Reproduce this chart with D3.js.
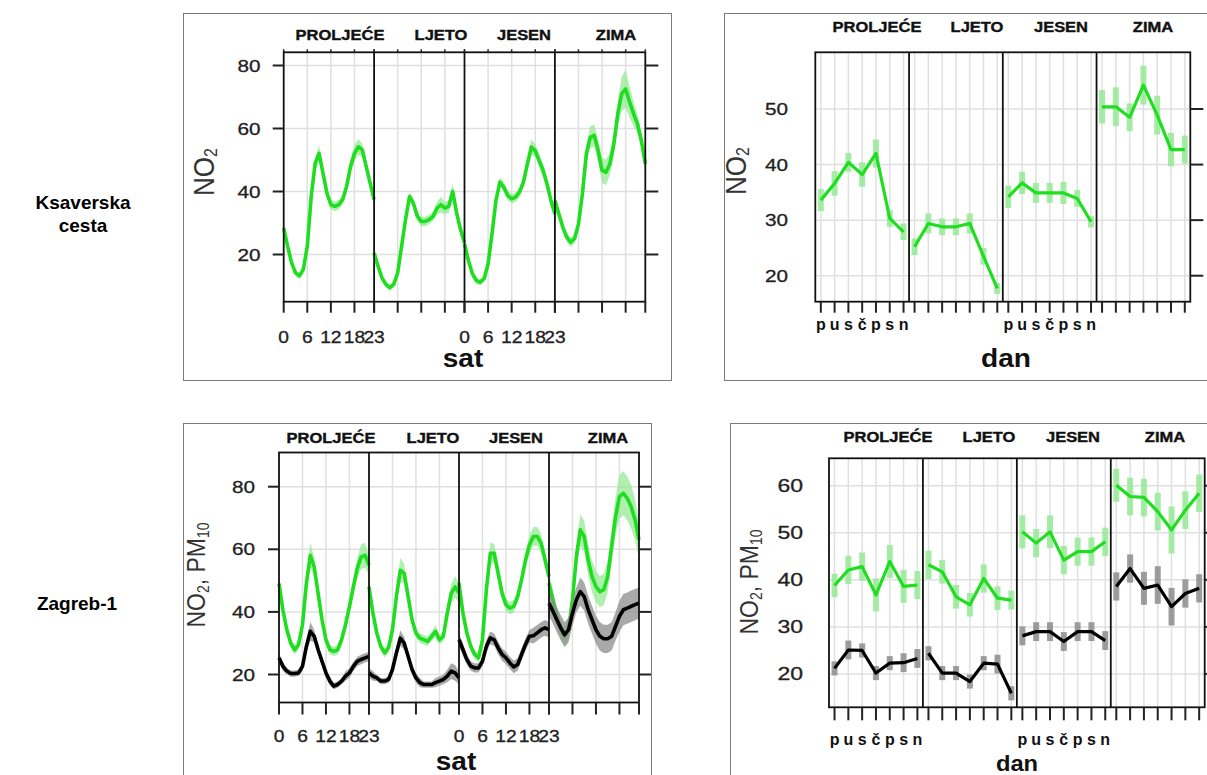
<!DOCTYPE html>
<html><head><meta charset="utf-8">
<script src="https://cdn.jsdelivr.net/npm/d3@7"></script>
<style>body{margin:0;background:#fff} svg{display:block} text{font-family:"Liberation Sans",Arial,Helvetica,sans-serif}</style>
</head><body><svg id="c" width="1207" height="775"></svg>
<script>
// ---------------- DATA ----------------
const seasons = ["PROLJEĆE", "LJETO", "JESEN", "ZIMA"];
const hours = [0,1,2,3,4,5,6,7,8,9,10,11,12,13,14,15,16,17,18,19,20,21,22,23];
const hourTickValues = [0, 6, 12, 18, 23];
const hourTickLabels = ["0", "6", "12", "18", "23"];
const hourGrid = [6, 12, 18];
const days = [1, 2, 3, 4, 5, 6, 7];
const dayLabels = ["p", "u", "s", "č", "p", "s", "n"];
const stations = ["Ksaverska", "cesta", "Zagreb-1"];

// Ksaverska cesta – NO2 by hour (one row per season)
const ksavHourNO2 = [
  [28.4,22.6,17.4,14.2,13.2,15.3,22.6,38.4,48.9,52.1,45.8,39.5,35.8,35.3,35.8,37.4,41.6,47.9,52.1,54.2,53.2,47.9,42.6,37.4],
  [20.5,16.3,12.6,10.5,9.5,10.5,14.2,22.6,31.1,38.4,36.3,32.1,30.5,30.5,31.1,32.1,34.7,35.8,34.7,35.3,40.0,33.2,27.9,23.7],
  [23.4,18.1,13.9,11.7,11.2,12.3,17.0,26.6,37.1,43.0,41.4,38.7,37.7,38.2,39.8,43.0,48.8,54.1,53.0,49.8,46.7,42.4,37.1,32.9],
  [37.1,32.9,28.7,25.5,23.9,25.0,29.7,39.3,52.0,57.2,57.8,53.0,46.7,46.1,48.8,55.1,64.7,71.0,72.6,68.4,64.7,61.5,56.2,48.8]
];
const ksavHourNO2ci = [
  [1,1,1,1,1,1,1,1.5,2,2.5,1.5,1.5,1.5,1.5,1.5,1.5,1.5,2,2.5,2.5,2,1.5,1.5,1.5],
  [1,1,1,1,1,1,1,1.5,1.5,1.5,1.5,1.5,1.5,1.5,1.5,1.5,2,2.5,2,2,2.5,1.5,1.5,1.5],
  [1,1,1,1,1,1,1,1.5,1.5,1.5,1.5,1.5,1.5,1.5,1.5,1.5,2,2.5,2,2,2,2,1.5,1.5],
  [1.5,1.5,1.5,1.5,1.5,1.5,1.5,2,3,3.5,3.5,3.5,4,4,3.5,3.5,4,5.5,6,5,4,3,2.5,2]
];
// Ksaverska cesta – NO2 by weekday
const ksavDayNO2 = [
  [33.6,36.6,40.4,38.2,42.0,30.3,27.9],
  [25.2,29.4,28.8,28.8,29.4,23.5,17.7],
  [34.2,36.7,34.9,34.9,34.9,33.9,29.7],
  [50.4,50.4,48.5,54.3,48.9,42.7,42.7]
];
const ksavDayNO2ci = [
  [2,2.2,1.7,2.2,2.5,1.5,1.5],
  [1.5,1.8,1.5,1.5,1.8,1.5,1],
  [2,2,1.8,1.8,2,1.5,1],
  [3,3.5,2.5,3.5,3.5,3,2.5]
];
// Zagreb-1 – NO2 (green) and PM10 (black) by hour
const zgHourNO2 = [
  [49.1,40.6,34.3,30.0,27.9,29.5,35.9,49.1,58.1,54.4,45.9,37.5,31.1,27.9,27.4,27.9,31.1,35.9,41.7,48.0,53.9,57.6,58.1,54.9],
  [48.0,39.6,33.2,29.0,26.9,28.5,34.3,44.9,53.3,52.3,44.9,37.5,33.2,31.6,31.1,30.6,32.2,33.8,31.1,32.2,39.6,45.9,48.0,46.0],
  [49.2,39.6,33.3,29.0,26.4,25.3,31.1,47.1,58.7,58.7,52.4,46.0,42.3,41.2,41.8,44.9,50.3,56.6,61.4,64.1,64.1,61.9,56.6,51.3],
  [49.2,43.9,38.6,34.3,32.2,34.3,43.9,57.7,66.2,64.1,56.6,51.3,48.1,46.5,47.1,51.3,60.9,70.4,76.8,77.9,76.3,73.6,69.4,63.0]
];
const zgHourNO2ci = [
  [2,1.5,1.5,1.5,1.5,1.5,2,2.5,4,3,2,1.5,1.5,1.5,1.5,1.5,1.5,2,2,2.5,3,4,4,3],
  [2,1.5,1.5,1.5,1.5,1.5,2,2.5,4,3,2,1.5,1.5,1.5,1.5,1.5,1.5,2,1.5,1.5,2,3,3.5,3],
  [2,1.5,1.5,1.5,1.5,1.5,2,3,3.5,3,2.5,2,2,2,2,2,2,2.5,3,3,3,3,2.5,2.5],
  [3,3,3,3,3,3,3,4,5,5,5,5,5,5,5,5,5,6,7,7,7,7,6.5,6]
];
const zgHourPM10 = [
  [25.3,22.6,21.1,20.3,20.3,20.5,22.6,29.0,33.8,32.2,27.9,24.2,20.5,17.9,16.3,16.8,17.9,19.5,20.5,22.6,24.2,24.8,25.3,25.8],
  [20.5,19.5,18.9,17.9,17.9,18.4,21.6,26.9,31.6,30.0,25.8,21.6,18.9,17.4,16.8,16.8,16.8,17.4,17.9,18.4,19.5,21.1,20.5,18.9],
  [31.1,28.0,24.8,22.7,22.1,22.1,24.2,29.0,31.7,31.1,28.5,26.4,25.3,23.7,22.4,23.2,26.4,29.6,32.2,32.4,33.3,34.3,34.9,34.3],
  [42.8,40.2,37.5,34.9,32.7,34.3,39.6,43.9,46.5,44.9,40.7,37.5,34.3,32.2,31.4,31.4,32.2,35.4,38.6,40.7,41.2,41.8,42.3,42.8]
];
const zgHourPM10ci = [
  [1.5,1.5,1,1,1,1,1.5,2,3,2,1.5,1.5,1.5,1.5,1,1,1,1.5,1.5,1.5,1.5,1.5,1.5,1.5],
  [1.5,1.5,1,1,1,1,1.5,2,2.5,2,1.5,1.5,1.5,1.5,1,1,1,1.5,1.5,1.5,2,2.5,2.5,2],
  [2,2,1.5,1.5,1.5,1.5,1.5,2,2,2,2,2,2,2,2,2,2,2,2,2.5,2.5,2.5,2.5,2.5],
  [4,4,4,4,4,4,4,4,4.5,4.5,4.5,4.5,4.5,4.5,4.5,4.5,4.5,4.5,5,5,5,5,5,5]
];
// Zagreb-1 – by weekday
const zgDayNO2 = [
  [38.8,42.1,42.8,36.8,43.9,38.6,38.9],
  [43.2,41.7,36.4,34.7,40.3,36.1,35.7],
  [50.2,47.8,50.2,44.2,46.0,46.0,48.1],
  [60.1,57.7,57.5,54.5,50.6,54.8,58.4]
];
const zgDayNO2ci = [
  [2.5,3,3,3.5,3.5,3.5,3],
  [3,2.5,2.5,2.5,3,2.5,2],
  [3.5,3,3.5,3,3,3,3],
  [3.5,4,4,4,5,4,4]
];
const zgDayPM10 = [
  [21.2,25.1,25.0,20.2,22.3,22.4,23.3],
  [24.4,20.2,20.2,18.4,22.3,22.1,15.9],
  [28.1,29.0,29.0,26.9,29.0,29.0,27.1],
  [38.6,42.4,38.2,38.9,34.3,37.1,38.2]
];
const zgDayPM10ci = [
  [1.5,2,1.5,1.5,1.5,2,2],
  [1.5,1.5,1.5,1.5,1.5,2,1.5],
  [2,2,2,2,2,2,2],
  [3,3,3.5,4,4,3,3]
];

// ---------------- STYLE / LAYOUT ----------------
const GREEN = "#1fdd1f", GREEN_BAND = "#95e995";
const BLACK = "#000000", GREY_BAND = "#8c8c8c";
const svg = d3.select("#c");
svg.append("rect").attr("width",1207).attr("height",775).attr("fill","#fff");

function txt(g, x, y, s, o) {
  o = o || {};
  const t = g.append("text")
    .attr("transform", `translate(${x},${y}) rotate(${o.rot||0}) scale(${o.sx||1},${o.sy||1})`)
    .attr("font-size", o.size || 14)
    .attr("font-weight", o.weight || "normal")
    .attr("text-anchor", o.anchor || "middle")
    .attr("fill", o.fill || "#000");
  if (o.stroke) t.attr("stroke", o.fill || "#000").attr("stroke-width", o.stroke);
  if (Array.isArray(s)) {
    s.forEach(p => t.append("tspan").attr("font-size", p.size || null).attr("dy", p.dy || 0).text(p.t));
  } else t.text(s);
  return t;
}

// outer frames
const frames = [
  [183, 13, 488, 367], [724, 13, 490, 367],
  [183, 423, 468, 360], [730, 423, 490, 360]
];
frames.forEach(f => svg.append("rect").attr("x",f[0]+0.5).attr("y",f[1]+0.5).attr("width",f[2]).attr("height",f[3])
  .attr("fill","none").attr("stroke","#7a7a7a").attr("stroke-width",1));

// station labels
txt(svg, 83, 209, stations[0], {size:19, weight:"bold"});
txt(svg, 83, 232, stations[1], {size:19, weight:"bold"});
txt(svg, 77, 610, stations[2], {size:19, weight:"bold"});

const charts = [
  { kind:"hour", L:283.7, R:645.3, T:52.3, B:301.7, yA:[20,80], yP:[254.5,65.5], yTicks:[20,40,60,80],
    leftTick:11, rightTick:13, botTick:11, topTick:3, labRight:260.5, ySize:17, ysx:1.22,
    xLabY:343, stripX:[340,441,524,616], stripY:40,
    title:{x:463,y:367,t:"sat",size:26}, ylab:{x:214,y:172,parts:[{t:"NO"},{t:"2",size:16,dy:3}]},
    series:[{v:ksavHourNO2, ci:ksavHourNO2ci, c:GREEN, b:GREEN_BAND}] },
  { kind:"day", L:815.3, R:1190.3, T:52.3, B:301.7, yA:[20,50], yP:[275.7,109], yTicks:[20,30,40,50],
    leftTick:0, rightTick:13, botTick:11, topTick:0, labRight:788, ySize:17, ysx:1.22,
    xLabY:330, stripX:[877,977,1061,1153], stripY:32,
    title:{x:1006,y:367,t:"dan",size:26}, ylab:{x:745.5,y:171,parts:[{t:"NO"},{t:"2",size:16,dy:3}]},
    series:[{v:ksavDayNO2, ci:ksavDayNO2ci, c:GREEN, b:GREEN_BAND}] },
  { kind:"hour", L:279, R:639, T:452.5, B:702.5, yA:[20,80], yP:[674.5,486.7], yTicks:[20,40,60,80],
    leftTick:11, rightTick:12, botTick:12, topTick:0, labRight:255, ySize:17, ysx:1.22,
    xLabY:742, stripX:[331,433,516,608], stripY:443,
    title:{x:456,y:770,t:"sat",size:26}, ylab:{x:205,y:575,parts:[{t:"NO"},{t:"2",size:14,dy:4},{t:", PM",dy:-4},{t:"10",size:14,dy:4}]},
    series:[{v:zgHourNO2, ci:zgHourNO2ci, c:GREEN, b:GREEN_BAND},{v:zgHourPM10, ci:zgHourPM10ci, c:BLACK, b:GREY_BAND}] },
  { kind:"day", L:829, R:1204.7, T:458.3, B:707.3, yA:[20,60], yP:[674,485.7], yTicks:[20,30,40,50,60],
    leftTick:0, rightTick:13, botTick:13, topTick:0, labRight:803, ySize:18, ysx:1.28,
    xLabY:745, stripX:[888,989,1073,1165], stripY:442,
    title:{x:1017,y:771,t:"dan",size:22}, ylab:{x:758,y:582,parts:[{t:"NO"},{t:"2",size:14,dy:4},{t:", PM",dy:-4},{t:"10",size:14,dy:4}]},
    series:[{v:zgDayNO2, ci:zgDayNO2ci, c:GREEN, b:GREEN_BAND},{v:zgDayPM10, ci:zgDayPM10ci, c:BLACK, b:GREY_BAND}] }
];

function drawChart(cfg) {
  const g = svg.append("g");
  const y = d3.scaleLinear().domain(cfg.yA).range(cfg.yP);
  const w = (cfg.R - cfg.L) / 4;
  const isHour = cfg.kind === "hour";
  const cats = isHour ? hours : days;
  const xs = seasons.map((s, i) => d3.scaleLinear()
    .domain(isHour ? [0, 23] : [0.6, 7.4])
    .range([cfg.L + i * w, cfg.L + (i + 1) * w]));
  const vGrid = isHour ? hourGrid : days;
  const xTickVals = isHour ? hourTickValues : days;
  const xTickLabs = isHour ? hourTickLabels : dayLabels;

  // grid
  const grid = g.append("g").attr("stroke", "#e0e0e0").attr("stroke-width", 1.5);
  cfg.yTicks.forEach(t => grid.append("line").attr("x1", cfg.L).attr("x2", cfg.R).attr("y1", y(t)).attr("y2", y(t)));
  xs.forEach(x => vGrid.forEach(c => grid.append("line").attr("x1", x(c)).attr("x2", x(c)).attr("y1", cfg.T).attr("y2", cfg.B)));

  // series
  cfg.series.forEach(s => {
    xs.forEach((x, i) => {
      const pts = cats.map((c, j) => ({ x: x(c), m: s.v[i][j], e: s.ci[i][j] }));
      if (isHour) {
        g.append("path").datum(pts)
          .attr("d", d3.area().x(d => d.x).y0(d => y(d.m - d.e)).y1(d => y(d.m + d.e)))
          .attr("fill", s.b).attr("opacity", 0.75);
      } else {
        g.selectAll(null).data(pts).enter().append("rect")
          .attr("x", d => d.x - 3).attr("width", 6)
          .attr("y", d => y(d.m + d.e)).attr("height", d => y(d.m - d.e) - y(d.m + d.e))
          .attr("fill", s.b).attr("opacity", 0.85);
      }
      g.append("path").datum(pts)
        .attr("d", d3.line().x(d => d.x).y(d => y(d.m)))
        .attr("fill", "none").attr("stroke", s.c).attr("stroke-width", isHour ? 3.6 : 3.2).attr("stroke-linejoin", "round");
    });
  });

  // border and dividers
  g.append("rect").attr("x", cfg.L).attr("y", cfg.T).attr("width", cfg.R - cfg.L).attr("height", cfg.B - cfg.T)
    .attr("fill", "none").attr("stroke", "#111").attr("stroke-width", 1.8);
  for (let i = 1; i < 4; i++) g.append("line").attr("x1", cfg.L + i * w).attr("x2", cfg.L + i * w)
    .attr("y1", cfg.T).attr("y2", cfg.B).attr("stroke", "#111").attr("stroke-width", 1.8);

  // ticks
  const tk = g.append("g").attr("stroke", "#222").attr("stroke-width", 2);
  cfg.yTicks.forEach(t => {
    if (cfg.leftTick) tk.append("line").attr("x1", cfg.L - cfg.leftTick).attr("x2", cfg.L).attr("y1", y(t)).attr("y2", y(t));
    tk.append("line").attr("x1", cfg.R).attr("x2", cfg.R + cfg.rightTick).attr("y1", y(t)).attr("y2", y(t));
    txt(g, cfg.labRight, y(t) + cfg.ySize * 0.36, String(t), { size: cfg.ySize, anchor: "end", sx: cfg.ysx, fill: "#222", stroke: 0.3 });
  });
  xs.forEach((x, i) => {
    xTickVals.forEach((c, j) => {
      tk.append("line").attr("x1", x(c)).attr("x2", x(c)).attr("y1", cfg.B).attr("y2", cfg.B + cfg.botTick);
      if (cfg.topTick) tk.append("line").attr("x1", x(c)).attr("x2", x(c)).attr("y1", cfg.T - cfg.topTick).attr("y2", cfg.T).attr("stroke-width", 1.5);
      if (i === 0 || i === 2) {
        if (isHour) txt(g, x(c), cfg.xLabY, xTickLabs[j], { size: 16, sx: 1.2, fill: "#222", stroke: 0.3 });
        else txt(g, x(c), cfg.xLabY, xTickLabs[j], { size: 16, weight: "bold", fill: "#111" });
      }
    });
    txt(g, cfg.stripX[i], cfg.stripY, seasons[i], { size: 15, weight: "bold", sx: 1.1, fill: "#111", stroke: 0.4 });
  });

  // axis titles
  txt(g, cfg.title.x, cfg.title.y, cfg.title.t, { size: cfg.title.size, weight: "bold", sx: 1.08, fill: "#111" });
  txt(g, cfg.ylab.x, cfg.ylab.y, cfg.ylab.parts, { size: cfg.ylab.parts.length > 2 ? 23 : 26, rot: -90, sy: 1.12, fill: "#333" });
}
charts.forEach(drawChart);
</script></body></html>
